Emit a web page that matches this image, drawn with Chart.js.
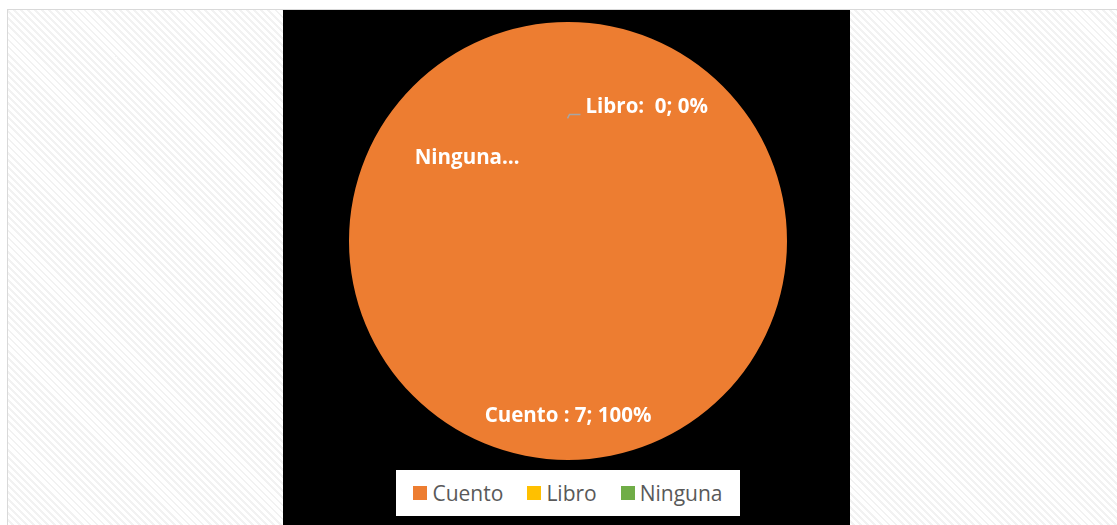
<!DOCTYPE html>
<html lang="es">
<head>
  <meta charset="UTF-8" />
  <title>Cuento / Libro / Ninguna</title>
  <script src="https://cdn.jsdelivr.net/npm/chart.js"></script>
  <style>
    body {
      margin: 0; width: 1117px; height: 525px; overflow: hidden; position: relative;
      background: #fff;
    }
    #frame {
      position: absolute; left: 7px; top: 9px; right: -2px; bottom: -2px;
      border: 1px solid #d9d9d9;
      background: repeating-linear-gradient(45deg, #fff 0px, #fff 3px, #f2f2f2 3px, #f2f2f2 5px);
    }
    #panel { position: absolute; left: 283px; top: 10px; width: 567px; height: 515px; background: #000; }
    #pieChart { position: absolute; left: 0; top: 0; }
    #legend {
      position: absolute; left: 113px; top: 460px; width: 344px; height: 46px;
      background: #fff; display: flex; align-items: center; justify-content: center;
      font-family: "Open Sans", sans-serif; font-size: 21px; color: #595959;
    }
    #legend span.item { display: inline-flex; align-items: center; margin: 0 12px; }
    #legend span.box { width: 14px; height: 14px; margin-right: 5px; display: inline-block; }
  </style>
</head>
<body>
  <div id="frame"></div>
  <div id="panel">
    <canvas id="pieChart" width="567" height="515"></canvas>
    <div id="legend"></div>
  </div>

  <script>
    // datos del gráfico
    const categories = ['Cuento', 'Libro', 'Ninguna'];
    const values = [7, 0, 0];
    const colors = ['#ED7D31', '#FFC000', '#70AD47'];

    // etiquetas de datos (texto tal como aparece en el original)
    const dataLabels = ['Cuento : 7; 100%', 'Libro:  0; 0%', 'Ninguna…'];
    // posición de cada etiqueta relativa al centro, en fracciones del radio
    const labelOffsets = [[0, 0.80], [0.08, -0.61], [-0.70, -0.38]];

    // leyenda html
    const legendEl = document.getElementById('legend');
    categories.forEach((c, i) => {
      const item = document.createElement('span');
      item.className = 'item';
      item.innerHTML = '<span class="box" style="background:' + colors[i] + '"></span>' + c;
      legendEl.appendChild(item);
    });

    const labelPlugin = {
      id: 'pieLabels',
      afterDatasetsDraw(chart) {
        const arc = chart.getDatasetMeta(0).data[0];
        const cx = arc.x, cy = arc.y, r = arc.outerRadius;
        const ctx = chart.ctx;
        ctx.save();
        ctx.font = 'bold 20.5px "Open Sans", sans-serif';
        ctx.fillStyle = '#fff';
        ctx.textBaseline = 'middle';
        dataLabels.forEach((txt, i) => {
          const x = cx + labelOffsets[i][0] * r;
          const y = cy + labelOffsets[i][1] * r;
          if (i === 0) { ctx.textAlign = 'center'; ctx.fillText(txt, x, y); }
          else if (i === 2) { ctx.textAlign = 'left'; ctx.fillText(txt, x, y); }
          else {
            ctx.textAlign = 'left';
            ctx.fillText(txt, x, y);
            // línea guía de Libro
            ctx.strokeStyle = '#a6a6a6';
            ctx.lineWidth = 1.5;
            ctx.beginPath();
            ctx.moveTo(x - 18, y + 11);
            ctx.lineTo(x - 16, y + 7);
            ctx.lineTo(x - 5, y + 7);
            ctx.stroke();
          }
        });
        ctx.restore();
      }
    };

    new Chart(document.getElementById('pieChart').getContext('2d'), {
      type: 'pie',
      data: {
        labels: categories,
        datasets: [{ data: values, backgroundColor: colors, borderWidth: 0 }]
      },
      options: {
        responsive: false,
        animation: false,
        layout: { padding: { left: 66, right: 63, top: 12, bottom: 65 } },
        plugins: { legend: { display: false }, tooltip: { enabled: false } }
      },
      plugins: [labelPlugin]
    });
  </script>
</body>
</html>
